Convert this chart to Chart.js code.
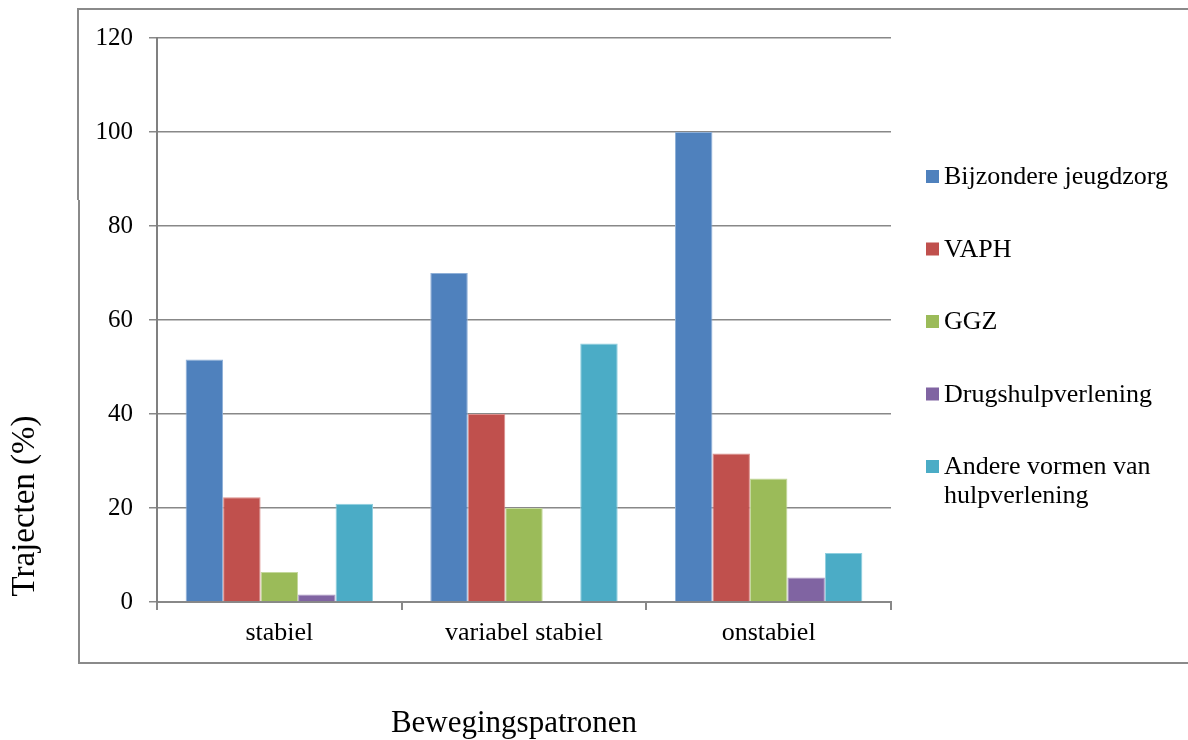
<!DOCTYPE html>
<html>
<head>
<meta charset="utf-8">
<script src="https://cdn.jsdelivr.net/npm/chart.js@4/dist/chart.umd.min.js"></script>
<style>
  html, body { margin: 0; padding: 0; background: #ffffff; }
  #wrap { width: 1188px; height: 740px; }
</style>
</head>
<body>
<div id="wrap"><canvas id="chart" width="1188" height="740"></canvas></div>
<script>
// Movement patterns (categories)
const categories = ['stabiel', 'variabel stabiel', 'onstabiel'];

// Care sectors (series) and their colours
const seriesNames = [
  'Bijzondere jeugdzorg',
  'VAPH',
  'GGZ',
  'Drugshulpverlening',
  'Andere vormen van hulpverlening'
];
const seriesColors = ['#4F81BD', '#C0504D', '#9BBB59', '#8064A2', '#4BACC6'];
const seriesEdges  = ['#8fb0d8', '#dc8e8b', '#c4d89c', '#ab98c4', '#8fcfdf'];

// Share of trajectories (%) per sector, in category order
const bijzondereJeugdzorg = [51.6, 70, 100];
const vaph                = [22.3, 40, 31.6];
const ggz                 = [6.4, 20, 26.3];
const drugshulpverlening  = [1.6, 0, 5.2];
const andereVormen        = [20.9, 55, 10.4];

// Value axis ticks
const yTicks = [0, 20, 40, 60, 80, 100, 120];

const xTitle = 'Bewegingspatronen';
const yTitle = 'Trajecten (%)';

const seriesValues = [bijzondereJeugdzorg, vaph, ggz, drugshulpverlening, andereVormen];

const FONT = "'Liberation Serif', 'Times New Roman', serif";
const GRID = '#888888';

// Frame, axis titles and legend drawn around the plot
const decorations = {
  id: 'decorations',
  beforeDraw(chart) {
    const ctx = chart.ctx;
    ctx.save();
    ctx.fillStyle = '#ffffff';
    ctx.fillRect(0, 0, chart.width, chart.height);
    // outer frame (open on the right)
    ctx.strokeStyle = '#8a8a8a';
    ctx.lineWidth = 2;
    ctx.beginPath();
    ctx.moveTo(chart.width, 9);
    ctx.lineTo(78, 9);
    ctx.lineTo(78, 200);
    ctx.moveTo(79, 200);
    ctx.lineTo(79, 663);
    ctx.lineTo(chart.width, 663);
    ctx.stroke();
    ctx.restore();
  },
  afterDraw(chart) {
    const ctx = chart.ctx;
    ctx.save();
    ctx.fillStyle = '#000000';

    // x-axis title
    ctx.font = '31px ' + FONT;
    ctx.textAlign = 'center';
    ctx.textBaseline = 'alphabetic';
    ctx.fillText(xTitle, 514, 732);

    // y-axis title
    ctx.save();
    ctx.font = '33px ' + FONT;
    ctx.translate(34, 506);
    ctx.rotate(-Math.PI / 2);
    ctx.textAlign = 'center';
    ctx.fillText(yTitle, 0, 0);
    ctx.restore();

    // legend
    ctx.font = '26px ' + FONT;
    ctx.textAlign = 'left';
    const sqX = 926, txtX = 944, maxW = 240, lineH = 29;
    let base = 184;
    chart.data.datasets.forEach((ds, i) => {
      // wrap long labels
      const words = ds.label.split(' ');
      const lines = [];
      let cur = '';
      words.forEach(w => {
        const test = cur ? cur + ' ' + w : w;
        if (ctx.measureText(test).width > maxW && cur) { lines.push(cur); cur = w; }
        else cur = test;
      });
      lines.push(cur);
      ctx.fillStyle = ds.backgroundColor;
      ctx.fillRect(sqX, base - 14, 13, 13);
      ctx.fillStyle = '#000000';
      lines.forEach((ln, k) => ctx.fillText(ln, txtX, base + k * lineH));
      base += 72.5;
    });
    ctx.restore();
  }
};

new Chart(document.getElementById('chart'), {
  type: 'bar',
  data: {
    labels: categories,
    datasets: seriesNames.map((name, i) => ({
      label: name,
      data: seriesValues[i],
      backgroundColor: seriesColors[i],
      borderColor: seriesEdges[i],
      borderWidth: 1,
      categoryPercentage: 0.766,
      barPercentage: 1.0
    }))
  },
  options: {
    responsive: false,
    animation: false,
    devicePixelRatio: 1,
    layout: { padding: { top: 38, right: 297, bottom: 0, left: 0 } },
    plugins: {
      legend: { display: false },
      tooltip: { enabled: false },
      title: { display: false }
    },
    scales: {
      x: {
        offset: true,
        grid: {
          display: true,
          offset: true,
          drawOnChartArea: false,
          tickLength: 8,
          color: GRID,
          lineWidth: 2
        },
        border: { display: true, color: GRID, width: 2 },
        ticks: { color: '#000', font: { family: FONT, size: 26 }, padding: 8 },
        afterFit(scale) { scale.height = 138; }
      },
      y: {
        min: 0,
        max: 120,
        afterBuildTicks(scale) { scale.ticks = yTicks.map(v => ({ value: v })); },
        grid: { color: GRID, lineWidth: 1.5, tickLength: 8 },
        border: { display: true, color: '#808080', width: 2 },
        ticks: { color: '#000', font: { family: FONT, size: 25 }, padding: 16 },
        afterFit(scale) { scale.width = 157; }
      }
    }
  },
  plugins: [decorations]
});
</script>
</body>
</html>
